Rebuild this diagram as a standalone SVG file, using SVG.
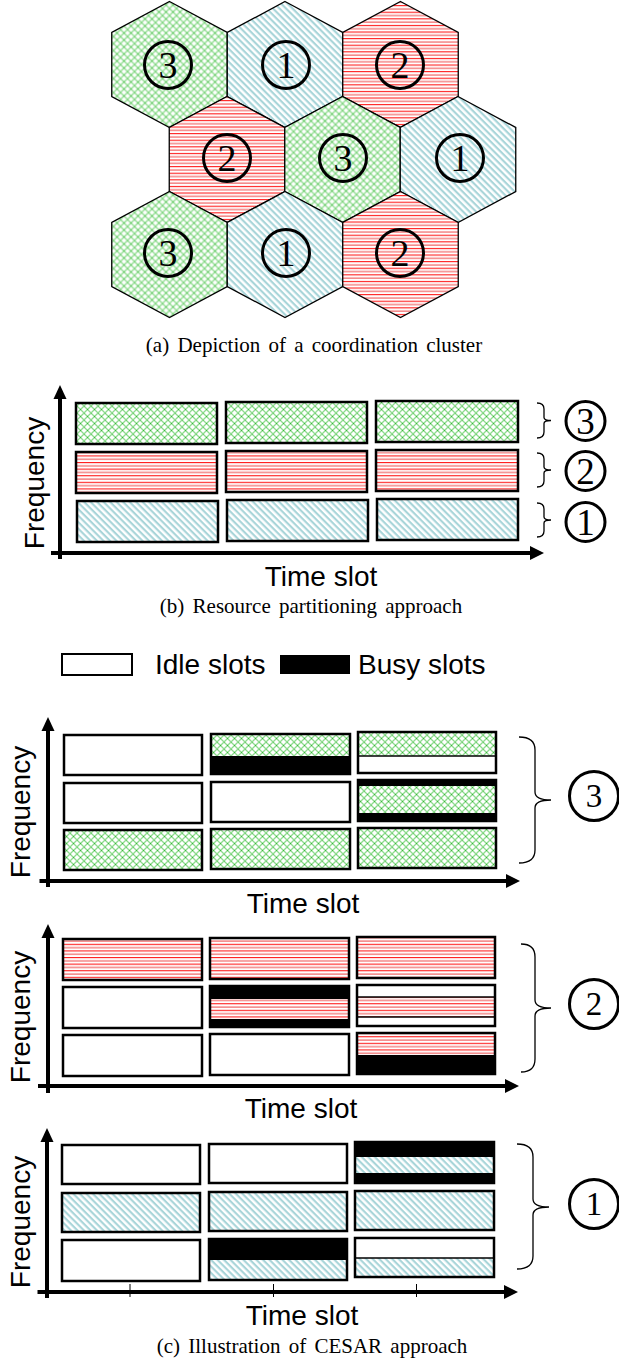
<svg xmlns="http://www.w3.org/2000/svg" xmlns:xlink="http://www.w3.org/1999/xlink" width="619" height="1363" viewBox="0 0 619 1363">
<style>
.hex{stroke:#000;stroke-width:1.3}
.cell{fill:none;stroke:#000;stroke-width:2.5}
.sep{stroke:#000;stroke-width:1.5}
.axis{stroke:#000;stroke-width:4;fill:none}
.head{fill:#000}
.tick{stroke:#000;stroke-width:1}
.lab{font-family:"Liberation Sans",Arial,sans-serif;font-size:28px;fill:#000}
.cap{font-family:"Liberation Serif","Times New Roman",serif;font-size:21px;text-anchor:middle;fill:#000;word-spacing:3px}
.num{font-family:"Liberation Serif","Times New Roman",serif;text-anchor:middle;fill:#000}
.ring{fill:none;stroke:#000;stroke-width:3}
.brace{fill:none;stroke:#000;stroke-width:1.3}
.g{fill:url(#pg)}
.b{fill:url(#pb)}
.r{fill:url(#pr)}
.w{fill:#fff}
.k{fill:#000}
</style>
<defs>
<pattern id="pg" patternUnits="userSpaceOnUse" width="7" height="7">
<rect width="7" height="7" fill="#fff"/>
<path d="M0,0L7,7M7,0L0,7" stroke="#8edb8e" stroke-width="1.3" fill="none"/>
<rect x="3" y="3" width="1" height="1" fill="#3cb83c"/>
<rect x="0" y="0" width="0.6" height="0.6" fill="#3cb83c"/>
</pattern>
<pattern id="pb" patternUnits="userSpaceOnUse" width="4.6" height="4.6" patternTransform="rotate(45)">
<rect width="4.6" height="4.6" fill="#fff"/>
<line x1="0" y1="1.1" x2="4.6" y2="1.1" stroke="#a6d4d8" stroke-width="2.1"/>
</pattern>
<pattern id="pr" patternUnits="userSpaceOnUse" width="8" height="6.6">
<rect width="8" height="6.6" fill="#fff"/>
<line x1="0" y1="0.6" x2="8" y2="0.6" stroke="#ff0000" stroke-width="1"/>
<line x1="0" y1="3.9" x2="8" y2="3.9" stroke="#f27a7a" stroke-width="1.4"/>
</pattern>
<polygon id="hx" points="0,-63 57.75,-32 57.75,32 0,63 -57.75,32 -57.75,-32"/>
</defs>
<rect width="619" height="1363" fill="#fff"/>

<!-- (a) hexagon cluster -->
<g id="cluster">
<g id="hex-r0c0"><use href="#hx" x="169.5" y="64.5" class="hex g"/><circle cx="168" cy="65" r="23.5" class="ring"/><text x="168" y="78" class="num" font-size="38">3</text></g>
<g id="hex-r0c1"><use href="#hx" x="285" y="64.5" class="hex b"/><circle cx="286" cy="65" r="23.5" class="ring"/><text x="286" y="78" class="num" font-size="38">1</text></g>
<g id="hex-r0c2"><use href="#hx" x="400.5" y="64.5" class="hex r"/><circle cx="400" cy="65" r="23.5" class="ring"/><text x="400" y="78" class="num" font-size="38">2</text></g>
<g id="hex-r1c0"><use href="#hx" x="227" y="159.5" class="hex r"/><circle cx="227" cy="158" r="23.5" class="ring"/><text x="227" y="171" class="num" font-size="38">2</text></g>
<g id="hex-r1c1"><use href="#hx" x="342.5" y="159.5" class="hex g"/><circle cx="343" cy="158" r="23.5" class="ring"/><text x="343" y="171" class="num" font-size="38">3</text></g>
<g id="hex-r1c2"><use href="#hx" x="458" y="159.5" class="hex b"/><circle cx="460" cy="158" r="23.5" class="ring"/><text x="460" y="171" class="num" font-size="38">1</text></g>
<g id="hex-r2c0"><use href="#hx" x="169.5" y="254.5" class="hex g"/><circle cx="168" cy="253" r="23.5" class="ring"/><text x="168" y="266" class="num" font-size="38">3</text></g>
<g id="hex-r2c1"><use href="#hx" x="285" y="254.5" class="hex b"/><circle cx="286" cy="253" r="23.5" class="ring"/><text x="286" y="266" class="num" font-size="38">1</text></g>
<g id="hex-r2c2"><use href="#hx" x="400.5" y="254.5" class="hex r"/><circle cx="400" cy="253" r="23.5" class="ring"/><text x="400" y="266" class="num" font-size="38">2</text></g>
</g>
<text x="314" y="352" class="cap">(a) Depiction of a coordination cluster</text>

<!-- (b) resource partitioning -->
<g id="panel-b">
<g id="b-cells">
<rect x="76" y="403" width="141" height="41" class="g"/><rect x="76" y="403" width="141" height="41" class="cell"/>
<rect x="226" y="402" width="141" height="41" class="g"/><rect x="226" y="402" width="141" height="41" class="cell"/>
<rect x="376" y="401" width="142" height="41" class="g"/><rect x="376" y="401" width="142" height="41" class="cell"/>
<rect x="76" y="452" width="141" height="41" class="r"/><rect x="76" y="452" width="141" height="41" class="cell"/>
<rect x="226" y="451" width="141" height="41" class="r"/><rect x="226" y="451" width="141" height="41" class="cell"/>
<rect x="376" y="450" width="142" height="41" class="r"/><rect x="376" y="450" width="142" height="41" class="cell"/>
<rect x="77" y="501" width="141" height="41" class="b"/><rect x="77" y="501" width="141" height="41" class="cell"/>
<rect x="227" y="500" width="141" height="41" class="b"/><rect x="227" y="500" width="141" height="41" class="cell"/>
<rect x="377" y="499" width="141" height="41" class="b"/><rect x="377" y="499" width="141" height="41" class="cell"/>
</g>
<g id="b-axes">
<line x1="60" y1="559" x2="60" y2="396" class="axis"/><polygon points="53.5,399 66.5,399 60,385" class="head"/>
<line x1="51" y1="553" x2="532" y2="553" class="axis"/><polygon points="530,546 530,560 544,553" class="head"/>
</g>
<text transform="translate(43.5,483) rotate(-90)" class="lab" text-anchor="middle">Frequency</text>
<text x="321" y="586" class="lab" text-anchor="middle">Time slot</text>
<g id="b-groups">
<path d="M537,403 Q544,403 544,409 L544,417.5 Q544,420.5 551,420.5 Q544,420.5 544,423.5 L544,432 Q544,438 537,438" class="brace"/>
<path d="M537,453 Q544,453 544,459 L544,467 Q544,470 551,470 Q544,470 544,473 L544,481 Q544,487 537,487" class="brace"/>
<path d="M537,503 Q544,503 544,509 L544,517 Q544,520 551,520 Q544,520 544,523 L544,531 Q544,537 537,537" class="brace"/>
<circle cx="585.5" cy="421" r="19.5" class="ring"/><text x="585.5" y="433.5" class="num" font-size="37">3</text>
<circle cx="585.5" cy="471" r="19.5" class="ring"/><text x="585.5" y="483.5" class="num" font-size="37">2</text>
<circle cx="585.5" cy="522" r="19.5" class="ring"/><text x="585.5" y="534.5" class="num" font-size="37">1</text>
</g>
</g>
<text x="311" y="613" class="cap">(b) Resource partitioning approach</text>

<!-- legend -->
<g id="legend">
<rect x="62" y="654" width="70" height="21" fill="#fff" stroke="#000" stroke-width="2"/>
<text x="155" y="674" class="lab">Idle slots</text>
<rect x="280" y="655" width="70" height="19" class="k"/>
<text x="358" y="674" class="lab">Busy slots</text>
</g>

<!-- (c) cluster 3 -->
<g id="panel-c3">
<g id="c3-cells">
<rect x="64" y="735" width="138" height="40" class="w"/><rect x="64" y="735" width="138" height="40" class="cell"/>
<rect x="211" y="734" width="139" height="22" class="g"/><rect x="211" y="756" width="139" height="18" class="k"/><rect x="211" y="734" width="139" height="40" class="cell"/>
<rect x="358" y="732" width="138" height="24" class="g"/><rect x="358" y="756" width="138" height="17" class="w"/><line x1="358" y1="756" x2="496" y2="756" class="sep"/><rect x="358" y="732" width="138" height="41" class="cell"/>
<rect x="64" y="783" width="138" height="40" class="w"/><rect x="64" y="783" width="138" height="40" class="cell"/>
<rect x="211" y="782" width="139" height="40" class="w"/><rect x="211" y="782" width="139" height="40" class="cell"/>
<rect x="358" y="780" width="138" height="6" class="k"/><rect x="358" y="786" width="138" height="27" class="g"/><rect x="358" y="813" width="138" height="8" class="k"/><rect x="358" y="780" width="138" height="41" class="cell"/>
<rect x="64" y="830" width="138" height="40" class="g"/><rect x="64" y="830" width="138" height="40" class="cell"/>
<rect x="211" y="829" width="139" height="40" class="g"/><rect x="211" y="829" width="139" height="40" class="cell"/>
<rect x="358" y="828" width="138" height="40" class="g"/><rect x="358" y="828" width="138" height="40" class="cell"/>
</g>
<g id="c3-axes">
<line x1="48" y1="887" x2="48" y2="729" class="axis"/><polygon points="41.5,731 54.5,731 48,717" class="head"/>
<line x1="39.5" y1="881" x2="508" y2="881" class="axis"/><polygon points="506,874 506,888 520,881" class="head"/>
</g>
<text transform="translate(30,812) rotate(-90)" class="lab" text-anchor="middle">Frequency</text>
<text x="303" y="913" class="lab" text-anchor="middle">Time slot</text>
<path d="M519,737 Q535,737 535,750 L535,792 Q535,800 551,800 Q535,800 535,808 L535,850 Q535,863 519,863" class="brace"/>
<circle cx="594" cy="796" r="24.5" class="ring" stroke-width="2.5"/><text x="594" y="807" class="num" font-size="33">3</text>
</g>

<!-- (c) cluster 2 -->
<g id="panel-c2">
<g id="c2-cells">
<rect x="63" y="939" width="139" height="41" class="r"/><rect x="63" y="939" width="139" height="41" class="cell"/>
<rect x="210" y="938" width="139" height="41" class="r"/><rect x="210" y="938" width="139" height="41" class="cell"/>
<rect x="357" y="937" width="138" height="41" class="r"/><rect x="357" y="937" width="138" height="41" class="cell"/>
<rect x="63" y="987" width="139" height="41" class="w"/><rect x="63" y="987" width="139" height="41" class="cell"/>
<rect x="210" y="986" width="139" height="13" class="k"/><rect x="210" y="999" width="139" height="20" class="r"/><rect x="210" y="1019" width="139" height="8" class="k"/><rect x="210" y="986" width="139" height="41" class="cell"/>
<rect x="357" y="985" width="138" height="12" class="w"/><rect x="357" y="997" width="138" height="20" class="r"/><rect x="357" y="1017" width="138" height="9" class="w"/><line x1="357" y1="997" x2="495" y2="997" class="sep"/><line x1="357" y1="1017" x2="495" y2="1017" class="sep"/><rect x="357" y="985" width="138" height="41" class="cell"/>
<rect x="63" y="1035" width="139" height="41" class="w"/><rect x="63" y="1035" width="139" height="41" class="cell"/>
<rect x="210" y="1034" width="139" height="41" class="w"/><rect x="210" y="1034" width="139" height="41" class="cell"/>
<rect x="357" y="1033" width="138" height="22" class="r"/><rect x="357" y="1055" width="138" height="19" class="k"/><rect x="357" y="1033" width="138" height="41" class="cell"/>
</g>
<g id="c2-axes">
<line x1="48" y1="1093" x2="48" y2="936" class="axis"/><polygon points="41.5,938 54.5,938 48,924" class="head"/>
<line x1="38" y1="1086" x2="507" y2="1086" class="axis"/><polygon points="505,1079 505,1093 519,1086" class="head"/>
</g>
<text transform="translate(30,1017) rotate(-90)" class="lab" text-anchor="middle">Frequency</text>
<text x="301" y="1118" class="lab" text-anchor="middle">Time slot</text>
<path d="M521,944 Q535,944 535,957 L535,1000 Q535,1008 551,1008 Q535,1008 535,1016 L535,1059 Q535,1072 521,1072" class="brace"/>
<circle cx="594" cy="1004" r="24.5" class="ring" stroke-width="2.5"/><text x="594" y="1015" class="num" font-size="33">2</text>
</g>

<!-- (c) cluster 1 -->
<g id="panel-c1">
<g id="c1-cells">
<rect x="62" y="1145" width="138" height="39" class="w"/><rect x="62" y="1145" width="138" height="39" class="cell"/>
<rect x="209" y="1144" width="138" height="39" class="w"/><rect x="209" y="1144" width="138" height="39" class="cell"/>
<rect x="355" y="1142" width="139" height="15" class="k"/><rect x="355" y="1157" width="139" height="16" class="b"/><rect x="355" y="1173" width="139" height="10" class="k"/><rect x="355" y="1142" width="139" height="41" class="cell"/>
<rect x="62" y="1193" width="138" height="39" class="b"/><rect x="62" y="1193" width="138" height="39" class="cell"/>
<rect x="209" y="1192" width="138" height="39" class="b"/><rect x="209" y="1192" width="138" height="39" class="cell"/>
<rect x="355" y="1191" width="139" height="39" class="b"/><rect x="355" y="1191" width="139" height="39" class="cell"/>
<rect x="62" y="1240" width="138" height="41" class="w"/><rect x="62" y="1240" width="138" height="41" class="cell"/>
<rect x="209" y="1239" width="138" height="21" class="k"/><rect x="209" y="1260" width="138" height="20" class="b"/><rect x="209" y="1239" width="138" height="41" class="cell"/>
<rect x="355" y="1238" width="139" height="20" class="w"/><rect x="355" y="1258" width="139" height="19" class="b"/><line x1="355" y1="1258" x2="494" y2="1258" class="sep"/><rect x="355" y="1238" width="139" height="39" class="cell"/>
</g>
<g id="c1-axes">
<line x1="47" y1="1298" x2="47" y2="1140" class="axis"/><polygon points="40.5,1142 53.5,1142 47,1128" class="head"/>
<line x1="37.5" y1="1292" x2="506" y2="1292" class="axis"/><polygon points="504,1285 504,1299 518,1292" class="head"/>
<line x1="130" y1="1284" x2="130" y2="1297" class="tick"/>
<line x1="273.5" y1="1284" x2="273.5" y2="1297" class="tick"/>
<line x1="416.5" y1="1284" x2="416.5" y2="1297" class="tick"/>
</g>
<text transform="translate(30,1222) rotate(-90)" class="lab" text-anchor="middle">Frequency</text>
<text x="302" y="1325" class="lab" text-anchor="middle">Time slot</text>
<path d="M517,1144 Q533,1144 533,1157 L533,1199 Q533,1207 549,1207 Q533,1207 533,1215 L533,1256 Q533,1269 517,1269" class="brace"/>
<circle cx="594" cy="1204" r="24.5" class="ring" stroke-width="2.5"/><text x="594" y="1215" class="num" font-size="33">1</text>
</g>
<text x="312" y="1353" class="cap">(c) Illustration of CESAR approach</text>
</svg>
